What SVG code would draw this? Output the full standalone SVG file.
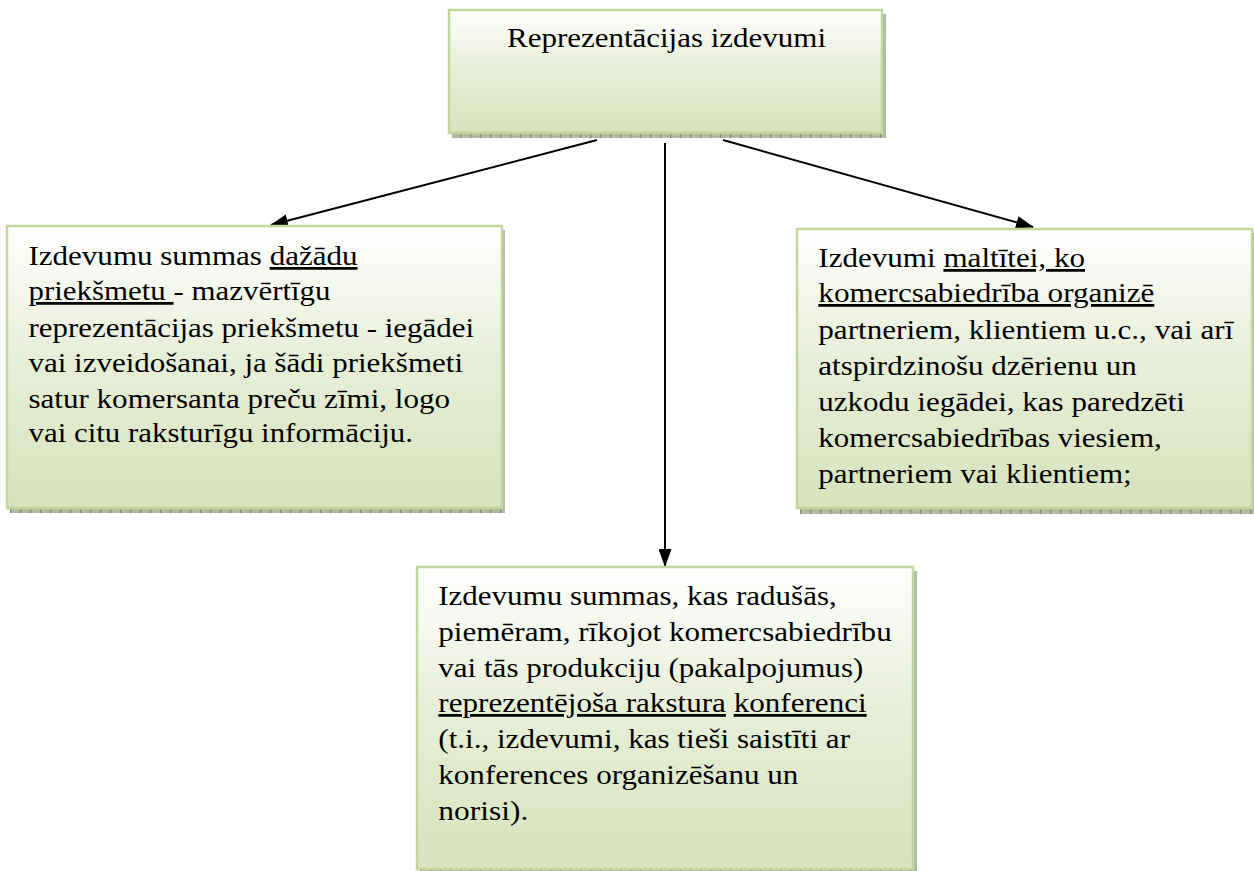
<svg xmlns="http://www.w3.org/2000/svg" width="1254" height="871" viewBox="0 0 1254 871">
<defs>
  <linearGradient id="g" x1="0" y1="0" x2="0" y2="1">
    <stop offset="0" stop-color="#ffffff"/>
    <stop offset="0.45" stop-color="#e8efd9"/>
    <stop offset="1" stop-color="#d6e3bc"/>
  </linearGradient>
  <pattern id="hatch" width="10" height="10" patternUnits="userSpaceOnUse">
    <rect width="10" height="10" fill="#b2b9a4"/>
    <rect x="0" y="0" width="1.2" height="10" fill="#7d8769"/>
  </pattern>
  <marker id="ah" viewBox="0 0 18 13" refX="17" refY="6.5" markerWidth="18" markerHeight="13" markerUnits="userSpaceOnUse" orient="auto">
    <path d="M0,0 L18,6.5 L0,13 Z" fill="#000"/>
  </marker>
  <style>
    .box{fill:url(#g);stroke:#c3d69b;stroke-width:2.5}
    .sh{fill:url(#hatch)}
    .u{text-decoration:underline}
    .c{stroke:#000;stroke-width:2;fill:none;marker-end:url(#ah)}
  </style>
</defs>
<rect width="1254" height="871" fill="#fff"/>

<g id="connectors">
  <line class="c" x1="597" y1="140" x2="271" y2="225"/>
  <line class="c" x1="665" y1="143" x2="665" y2="566"/>
  <line class="c" x1="723" y1="140" x2="1033" y2="227"/>
</g>

<g id="node-top">
  <rect class="sh" x="452" y="14" width="434" height="124"/>
  <rect class="box" x="449" y="10" width="433" height="123"/>
  <text font-family="Liberation Serif" font-size="27.5" x="507" y="47" textLength="319" lengthAdjust="spacingAndGlyphs">Reprezentācijas izdevumi</text>
</g>

<g id="node-left">
  <rect class="sh" x="10" y="230" width="495" height="283"/>
  <rect class="box" x="7" y="226" width="495" height="282"/>
  <text font-family="Liberation Serif" font-size="27.5" x="28.5" y="265" textLength="329" lengthAdjust="spacingAndGlyphs">Izdevumu summas <tspan class="u">dažādu</tspan></text>
  <text font-family="Liberation Serif" font-size="27.5" x="28.5" y="300" textLength="302" lengthAdjust="spacingAndGlyphs"><tspan class="u">priekšmetu </tspan>- mazvērtīgu</text>
  <text font-family="Liberation Serif" font-size="27.5" x="28.5" y="336.5" textLength="445.5" lengthAdjust="spacingAndGlyphs">reprezentācijas priekšmetu - iegādei</text>
  <text font-family="Liberation Serif" font-size="27.5" x="28.5" y="372" textLength="434.5" lengthAdjust="spacingAndGlyphs">vai izveidošanai, ja šādi priekšmeti</text>
  <text font-family="Liberation Serif" font-size="27.5" x="28.5" y="407.5" textLength="421.5" lengthAdjust="spacingAndGlyphs">satur komersanta preču zīmi, logo</text>
  <text font-family="Liberation Serif" font-size="27.5" x="28.5" y="442" textLength="384.5" lengthAdjust="spacingAndGlyphs">vai citu raksturīgu informāciju.</text>
</g>

<g id="node-right">
  <rect class="sh" x="800" y="233" width="460" height="281"/>
  <rect class="box" x="797" y="229" width="455" height="279"/>
  <text font-family="Liberation Serif" font-size="27.5" x="818.3" y="267" textLength="266.7" lengthAdjust="spacingAndGlyphs">Izdevumi <tspan class="u">maltītei, ko</tspan></text>
  <text font-family="Liberation Serif" font-size="27.5" x="818.3" y="302" textLength="336" lengthAdjust="spacingAndGlyphs"><tspan class="u">komercsabiedrība organizē</tspan></text>
  <text font-family="Liberation Serif" font-size="27.5" x="818.3" y="338.5" textLength="415" lengthAdjust="spacingAndGlyphs">partneriem, klientiem u.c., vai arī</text>
  <text font-family="Liberation Serif" font-size="27.5" x="818.3" y="375" textLength="318.4" lengthAdjust="spacingAndGlyphs">atspirdzinošu dzērienu un</text>
  <text font-family="Liberation Serif" font-size="27.5" x="818.3" y="410.5" textLength="366.7" lengthAdjust="spacingAndGlyphs">uzkodu iegādei, kas paredzēti</text>
  <text font-family="Liberation Serif" font-size="27.5" x="818.3" y="446.5" textLength="343.4" lengthAdjust="spacingAndGlyphs">komercsabiedrības viesiem,</text>
  <text font-family="Liberation Serif" font-size="27.5" x="818.3" y="483" textLength="313.4" lengthAdjust="spacingAndGlyphs">partneriem vai klientiem;</text>
</g>

<g id="node-bottom">
  <rect class="sh" x="420" y="571" width="497" height="305"/>
  <rect class="box" x="417" y="567" width="496" height="302"/>
  <text font-family="Liberation Serif" font-size="27.5" x="438.3" y="605" textLength="398.4" lengthAdjust="spacingAndGlyphs">Izdevumu summas, kas radušās,</text>
  <text font-family="Liberation Serif" font-size="27.5" x="438.3" y="640.5" textLength="453.4" lengthAdjust="spacingAndGlyphs">piemēram, rīkojot komercsabiedrību</text>
  <text font-family="Liberation Serif" font-size="27.5" x="438.3" y="676.5" textLength="425" lengthAdjust="spacingAndGlyphs">vai tās produkciju (pakalpojumus)</text>
  <text font-family="Liberation Serif" font-size="27.5" x="438.3" y="712" textLength="428.4" lengthAdjust="spacingAndGlyphs"><tspan class="u">reprezentējoša rakstura</tspan> <tspan class="u">konferenci</tspan></text>
  <text font-family="Liberation Serif" font-size="27.5" x="438.3" y="748" textLength="411.7" lengthAdjust="spacingAndGlyphs">(t.i., izdevumi, kas tieši saistīti ar</text>
  <text font-family="Liberation Serif" font-size="27.5" x="438.3" y="783.5" textLength="360" lengthAdjust="spacingAndGlyphs">konferences organizēšanu un</text>
  <text font-family="Liberation Serif" font-size="27.5" x="438.3" y="820" textLength="90" lengthAdjust="spacingAndGlyphs">norisi).</text>
</g>
</svg>
